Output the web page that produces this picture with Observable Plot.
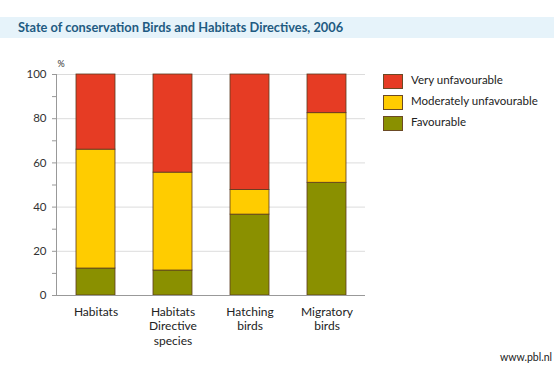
<!DOCTYPE html>
<html>
<head>
<meta charset="utf-8">
<script src="https://cdn.jsdelivr.net/npm/d3@7"></script>
<script src="https://cdn.jsdelivr.net/npm/@observablehq/plot@0.6"></script>
<style>
  html, body { margin: 0; padding: 0; background: #fff; }
  body { width: 554px; height: 369px; position: relative; overflow: hidden; font-family: Lato, "Open Sans", sans-serif; }
  #title { position: absolute; left: 0; top: 17px; width: 554px; height: 21px; background: #e6f3fa; }
  #title span { position: absolute; left: 18px; top: 2px; font-size: 12.8px; font-weight: bold; color: #1f5b82; white-space: nowrap; }
  #chart { position: absolute; left: 0; top: 0; }
  #legend { position: absolute; left: 383px; top: 74px; }
  .item { position: relative; height: 21px; }
  .sw { position: absolute; left: 0; top: 0; width: 18px; height: 13px; border: 0.5px solid #6b4a25; }
  .lb { position: absolute; left: 28px; top: -1px; font-size: 11.5px; color: #222; white-space: nowrap; }
  #source { position: absolute; right: 2px; top: 351px; font-size: 10.5px; color: #222; }
</style>
</head>
<body>
<div id="title"><span>State of conservation Birds and Habitats Directives, 2006</span></div>
<div id="chart"></div>
<div id="legend"></div>
<div id="source">www.pbl.nl</div>
<script>
const categories = ["Habitats", "Habitats\nDirective\nspecies", "Hatching\nbirds", "Migratory\nbirds"];
const statuses = ["Favourable", "Moderately unfavourable", "Very unfavourable"];
const colors = ["#8a9000", "#ffcc00", "#e63c24"];
const favourable = [12.2, 11.3, 36.6, 51.0];
const moderately = [53.8, 44.3, 11.1, 31.5];
const veryUnfav = [34.0, 44.4, 52.3, 17.5];
const yTicks = [0, 20, 40, 60, 80, 100];
const legendOrder = ["Very unfavourable", "Moderately unfavourable", "Favourable"];

const series = [favourable, moderately, veryUnfav];
const data = [];
categories.forEach((c, i) => {
  statuses.forEach((s, j) => data.push({cat: c, status: s, value: series[j][i]}));
});

const chart = Plot.plot({
  width: 554,
  height: 369,
  marginTop: 74,
  marginBottom: 74,
  marginLeft: 56,
  marginRight: 189,
  style: {fontFamily: "Lato, 'Open Sans', sans-serif", fontSize: "11px", color: "#333", background: "transparent"},
  x: {domain: categories, paddingInner: 0.5, paddingOuter: 0.25, label: null},
  y: {domain: [0, 100], label: null},
  color: {domain: statuses, range: colors},
  marks: [
    Plot.gridY(yTicks.filter(d => d > 0), {stroke: "#dcdcdc", strokeOpacity: 1}),
    Plot.barY(data, {x: "cat", y: "value", fill: "status", stroke: "#5a3b1e", strokeWidth: 0.8}),
    Plot.ruleY([0], {stroke: "#999"}),
    Plot.frame({anchor: "left", stroke: "#999"}),
    Plot.axisY(d3.range(0, 101, 10), {tickSize: 4, tickPadding: 6, tickFormat: d => d % 20 === 0 ? d : "", stroke: "#999", fontSize: 11.5, fill: "#333"}),
    Plot.axisX({tickSize: 0, tickPadding: 10, fontSize: 12, lineHeight: 1.2, fill: "#222"}),
    Plot.text(["%"], {frameAnchor: "top-left", dx: 1, dy: -14, fontSize: 9, fill: "#333"})
  ]
});
document.getElementById("chart").appendChild(chart);

const legend = document.getElementById("legend");
legendOrder.forEach(s => {
  const it = document.createElement("div");
  it.className = "item";
  const sw = document.createElement("div");
  sw.className = "sw";
  sw.style.background = colors[statuses.indexOf(s)];
  const lb = document.createElement("div");
  lb.className = "lb";
  lb.textContent = s;
  it.appendChild(sw); it.appendChild(lb);
  legend.appendChild(it);
});
</script>
</body>
</html>
